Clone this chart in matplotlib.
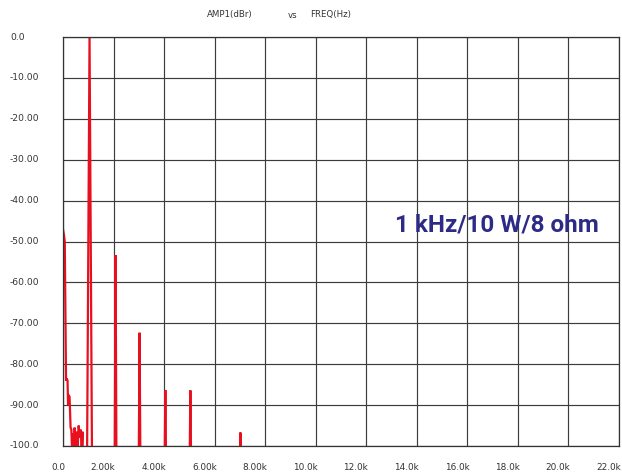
import matplotlib
matplotlib.use("Agg")
import matplotlib.pyplot as plt
import matplotlib.transforms as mtransforms

# spectrum (frequency in kHz, level in dBr)
# points below -100 fall outside the axes and just make the gaps
low_freq = [0.00, 0.04, 0.07, 0.12, 0.14, 0.18, 0.20, 0.22, 0.26, 0.30, 0.33,
            0.36, 0.40, 0.43, 0.46, 0.50, 0.55, 0.58, 0.62, 0.66, 0.70, 0.74,
            0.77, 0.80]
low_amp = [-47.0, -48.5, -50.0, -84.0, -83.5, -84.0, -90.0, -87.5, -88.0,
           -95.5, -96.0, -101.0, -97.0, -101.0, -95.5, -101.0, -96.5, -100.5,
           -95.0, -98.0, -96.0, -101.0, -96.5, -110.0]

peak_freq = [1.05, 2.08, 3.03, 4.05, 5.04, 7.02]
peak_amp = [0.0, -53.3, -72.3, -86.3, -86.4, -96.7]
peak_halfwidth = [0.095, 0.035, 0.035, 0.035, 0.035, 0.035]

xticks = [0, 2, 4, 6, 8, 10, 12, 14, 16, 18, 20, 22]
xlabels = ["0.0", "2.00k", "4.00k", "6.00k", "8.00k", "10.0k", "12.0k",
           "14.0k", "16.0k", "18.0k", "20.0k", "22.0k"]
yticks = [0, -10, -20, -30, -40, -50, -60, -70, -80, -90, -100]
ylabels = ["0.0", "-10.00", "-20.00", "-30.00", "-40.00", "-50.00", "-60.00",
           "-70.00", "-80.00", "-90.00", "-100.0"]

# build one trace: low-frequency noise then each harmonic as a narrow spike
freq = list(low_freq)
amp = list(low_amp)
for f, a, hw in zip(peak_freq, peak_amp, peak_halfwidth):
    freq += [f - hw * 1.1, f, f + hw * 1.1]
    amp += [-110.0, a, -110.0]
freq.append(22.0)
amp.append(-110.0)

fig = plt.figure(figsize=(6.22, 4.72), dpi=100)
ax = fig.add_axes([63 / 622, 26 / 472, 556 / 622, 409 / 472])

ax.plot(freq, amp, color="#e8101e", lw=1.6, solid_joinstyle="miter")

ax.set_xlim(0, 22)
ax.set_ylim(-100, 0)
ax.set_xticks(xticks)
ax.set_yticks(yticks)
ax.set_xticklabels([])
ax.set_yticklabels([])
ax.tick_params(length=0)
ax.grid(True, color="#3c3c3c", lw=0.85)
ax.set_axisbelow(True)
for s in ax.spines.values():
    s.set_color("#333333")
    s.set_linewidth(0.9)

# tick labels: y left-aligned at the figure edge, x right-aligned to the grid
ytrans = mtransforms.blended_transform_factory(fig.transFigure, ax.transData)
for v, lab in zip(yticks, ylabels):
    fig.text(10 / 622, v, lab, transform=ytrans, ha="left", va="center",
             fontsize=6.6, color="#333333")
xtrans = mtransforms.blended_transform_factory(ax.transData, fig.transFigure)
xtrans = mtransforms.offset_copy(xtrans, fig=fig, x=2, y=0, units="dots")
for v, lab in zip(xticks, xlabels):
    ax.text(v, 1 - 468 / 472, lab, transform=xtrans, ha="right", va="center",
            fontsize=6.4, color="#333333", clip_on=False)

# header
fig.text(230 / 622, 1 - 15 / 472, "AMP1(dBr)", ha="center", va="center",
         fontsize=6.2, color="#333333")
fig.text(293 / 622, 1 - 15 / 472, "vs", ha="center", va="center",
         fontsize=6.2, color="#333333")
fig.text(331 / 622, 1 - 15 / 472, "FREQ(Hz)", ha="center", va="center",
         fontsize=6.2, color="#333333")

fig.text(497 / 622, 1 - 225 / 472, "1 kHz/10 W/8 ohm", ha="center",
         va="center", fontsize=17.5, fontweight="bold", color="#2e2b87",
         family="Roboto")

fig.savefig("out.png", dpi=100)
